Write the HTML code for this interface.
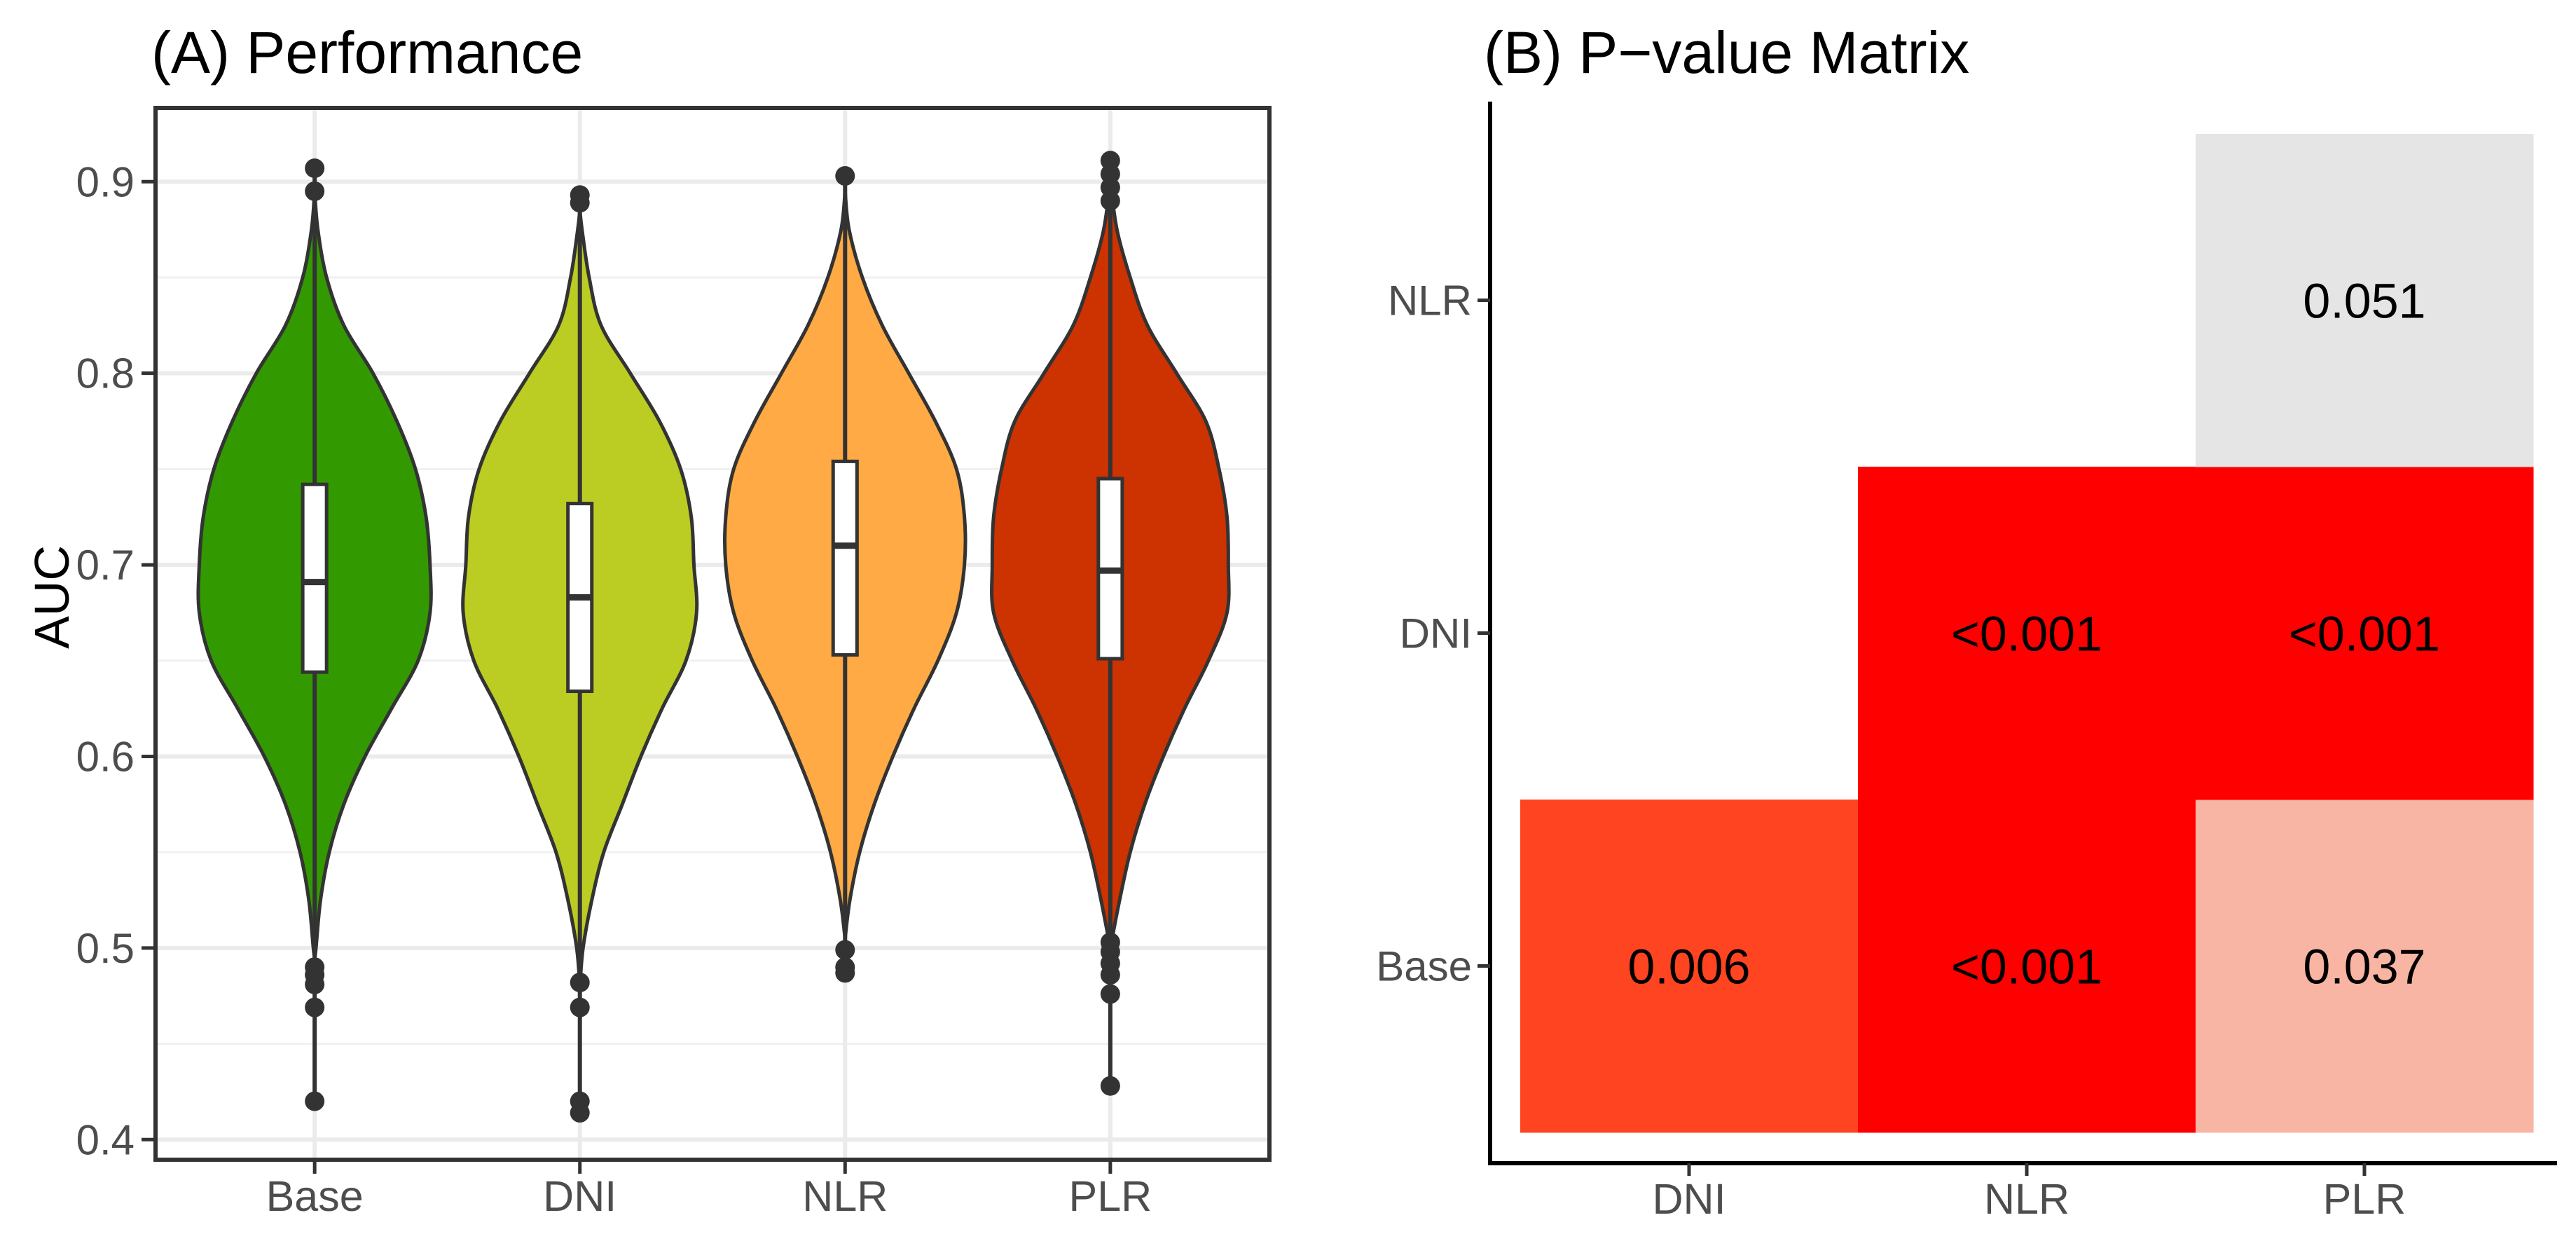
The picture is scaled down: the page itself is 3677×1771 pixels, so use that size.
<!DOCTYPE html>
<html><head><meta charset="utf-8">
<style>
html,body{margin:0;padding:0;background:#fff;}
svg{display:block;font-family:"Liberation Sans",Arial,sans-serif;}
</style></head>
<body>
<svg id="fig" width="3677" height="1771" viewBox="0 0 3677 1771" xmlns="http://www.w3.org/2000/svg">
<rect x="0" y="0" width="3677" height="1771" fill="#fff"/>
<text x="216" y="104" font-size="84" fill="#000">(A) Performance</text>
<text x="2118" y="104" font-size="84" fill="#000">(B) P−value Matrix</text>
<text transform="translate(98,852) rotate(-90)" text-anchor="middle" font-size="70" fill="#000">AUC</text>
<g id="gA"></g>
<g id="gB"></g>
</svg>
<script>
// ---- Panel A data ----
const groups = ["Base","DNI","NLR","PLR"];
const colors = ["#339900","#BBCC22","#FFAA44","#CC3300"];
const yTicks = [0.4,0.5,0.6,0.7,0.8,0.9];
const yTickLabels = ["0.4","0.5","0.6","0.7","0.8","0.9"];
const densityGrid = [0.90,0.875,0.85,0.825,0.80,0.775,0.75,0.725,0.70,0.675,0.65,0.625,0.60,0.575,0.55,0.525,0.50,0.475];
const widthBase = [0,0.012,0.045,0.11,0.22,0.31,0.38,0.42,0.435,0.435,0.39,0.29,0.19,0.11,0.055,0.022,0.005,0];
const widthDNI  = [0,0.008,0.035,0.08,0.19,0.30,0.38,0.42,0.43,0.44,0.40,0.31,0.23,0.16,0.09,0.045,0.012,0];
const widthNLR  = [0,0.015,0.065,0.14,0.24,0.34,0.42,0.45,0.45,0.42,0.35,0.26,0.18,0.11,0.055,0.018,0,0];
const widthPLR  = [0,0.025,0.075,0.14,0.25,0.36,0.41,0.44,0.445,0.44,0.37,0.28,0.20,0.13,0.075,0.035,0.006,0];
const violinTop = [0.895,0.885,0.895,0.900];
const violinBottom = [0.495,0.480,0.505,0.500];
const q1 = [0.644,0.634,0.653,0.651];
const medians = [0.691,0.683,0.710,0.697];
const q3 = [0.742,0.732,0.754,0.745];
const outliersBase = [0.907,0.895,0.490,0.486,0.481,0.469,0.420];
const outliersDNI = [0.893,0.889,0.482,0.469,0.420,0.414];
const outliersNLR = [0.903,0.499,0.490,0.487];
const outliersPLR = [0.911,0.904,0.897,0.890,0.503,0.498,0.492,0.486,0.476,0.428];
// ---- Panel B data ----
const colCats = ["DNI","NLR","PLR"];
const rowCats = ["Base","DNI","NLR"];
const cellRow = ["Base","Base","Base","DNI","DNI","NLR"];
const cellCol = ["DNI","NLR","PLR","NLR","PLR","PLR"];
const cellLabel = ["0.006","<0.001","0.037","<0.001","<0.001","0.051"];
const cellColor = ["#FF4422","#FF0000","#F9B5A3","#FF0000","#FF0000","#E5E5E5"];

const NS="http://www.w3.org/2000/svg";
function mk(tag,attrs,parent){const e=document.createElementNS(NS,tag);for(const k in attrs)e.setAttribute(k,attrs[k]);parent.appendChild(e);return e;}

const A={l:222,r:1812,t:154,b:1655};
const yMin=0.3895,yMax=0.9385;
function yA(v){return A.b-(v-yMin)/(yMax-yMin)*(A.b-A.t);}
const unit=(A.r-A.l)/4.2;
function xA(i){return A.l+(i+0.6)*unit;}
const gA=document.getElementById('gA');
for(let v=0.45;v<0.94;v+=0.1){const l=mk('line',{x1:A.l,x2:A.r,y1:yA(v),y2:yA(v),stroke:'#F0F0F0','stroke-width':3},gA);

}
yTicks.forEach((v,i)=>{const l=mk('line',{x1:A.l,x2:A.r,y1:yA(v),y2:yA(v),stroke:'#EBEBEB','stroke-width':6},gA);


const t=mk('line',{x1:A.l-20,x2:A.l,y1:yA(v),y2:yA(v),stroke:'#333','stroke-width':5},gA);


const tx=mk('text',{x:A.l-30,y:yA(v)+21,'text-anchor':'end','font-size':60,fill:'#4D4D4D'},gA);tx.textContent=yTickLabels[i];

});
groups.forEach((g,i)=>{const l=mk('line',{x1:xA(i),x2:xA(i),y1:A.t,y2:A.b,stroke:'#EBEBEB','stroke-width':6},gA);

});

function smoothPath(pts){let d='M'+pts[0][0]+','+pts[0][1];
for(let i=0;i<pts.length-1;i++){const p0=pts[Math.max(0,i-1)],p1=pts[i],p2=pts[i+1],p3=pts[Math.min(pts.length-1,i+2)];
const c1=[p1[0]+(p2[0]-p0[0])/6,p1[1]+(p2[1]-p0[1])/6],c2=[p2[0]-(p3[0]-p1[0])/6,p2[1]-(p3[1]-p1[1])/6];
d+=' C'+c1[0]+','+c1[1]+' '+c2[0]+','+c2[1]+' '+p2[0]+','+p2[1];}return d;}
const widths=[widthBase,widthDNI,widthNLR,widthPLR];
const outs=[outliersBase,outliersDNI,outliersNLR,outliersPLR];
groups.forEach((g,i)=>{
  const cx=xA(i);const w=widths[i];
  const right=[[cx,yA(violinTop[i])]];
  densityGrid.forEach((v,k)=>{if(v<violinTop[i]&&v>violinBottom[i])right.push([cx+w[k]*unit,yA(v)]);});
  right.push([cx,yA(violinBottom[i])]);
  const left=right.slice().reverse().map(p=>[2*cx-p[0],p[1]]);
  const d=smoothPath(right)+' '+smoothPath(left).replace(/^M[^C]*/,'')+' Z';
  const p=mk('path',{d:d,fill:colors[i],stroke:'#333','stroke-width':5},gA);
  
  
  const o=outs[i];const mx=Math.max(...o),mn=Math.min(...o);
  const wl=mk('line',{x1:cx,x2:cx,y1:yA(mx),y2:yA(mn),stroke:'#333','stroke-width':6},gA);
  
  
  const bw=0.09*unit;
  const b=mk('rect',{x:cx-bw/2,y:yA(q3[i]),width:bw,height:yA(q1[i])-yA(q3[i]),fill:'#fff',stroke:'#333','stroke-width':5},gA);
  
  
  const m=mk('line',{x1:cx-bw/2,x2:cx+bw/2,y1:yA(medians[i]),y2:yA(medians[i]),stroke:'#333','stroke-width':9},gA);
  
  
  o.forEach(v=>{const c=mk('circle',{cx:cx,cy:yA(v),r:14,fill:'#333'},gA);
  
  });
  const t=mk('line',{x1:cx,x2:cx,y1:A.b,y2:A.b+20,stroke:'#333','stroke-width':5},gA);
  
  
  const tx=mk('text',{x:cx,y:1728,'text-anchor':'middle','font-size':61,fill:'#4D4D4D'},gA);tx.textContent=g;
  
  
});
const border=mk('rect',{x:A.l,y:A.t,width:A.r-A.l,height:A.b-A.t,fill:'none',stroke:'#333','stroke-width':6},gA);



const gB=document.getElementById('gB');
const B={x0:2170,tw:482,yb:1616,th:475,axL:2127,axB:1660,axT:145,axR:3650};
function xB(c){return B.x0+colCats.indexOf(c)*B.tw;}
function yB(r){return B.yb-(rowCats.indexOf(r)+1)*B.th;}
cellLabel.forEach((lab,i)=>{
  const r=mk('rect',{x:xB(cellCol[i]),y:yB(cellRow[i]),width:B.tw+0.5,height:B.th+0.5,fill:cellColor[i]},gB);
  
  
  const t=mk('text',{x:xB(cellCol[i])+B.tw/2,y:yB(cellRow[i])+B.th/2+25,'text-anchor':'middle','font-size':70,fill:'#000'},gB);t.textContent=lab;
  
  
});
const ya=mk('line',{x1:B.axL,x2:B.axL,y1:B.axT,y2:B.axB,stroke:'#000','stroke-width':6},gB);


const xa=mk('line',{x1:B.axL-3,x2:B.axR,y1:B.axB,y2:B.axB,stroke:'#000','stroke-width':6},gB);


rowCats.forEach(r=>{const y=yB(r)+B.th/2;
  const t=mk('line',{x1:B.axL-18,x2:B.axL,y1:y,y2:y,stroke:'#333','stroke-width':5},gB);
  
  
  const tx=mk('text',{x:B.axL-26,y:y+21,'text-anchor':'end','font-size':60,fill:'#4D4D4D'},gB);tx.textContent=r;
  
  });
colCats.forEach(c=>{const x=xB(c)+B.tw/2;
  const t=mk('line',{x1:x,x2:x,y1:B.axB,y2:B.axB+18,stroke:'#333','stroke-width':5},gB);
  
  
  const tx=mk('text',{x:x,y:1732,'text-anchor':'middle','font-size':61,fill:'#4D4D4D'},gB);tx.textContent=c;
  
  });
</script>
</body></html>
